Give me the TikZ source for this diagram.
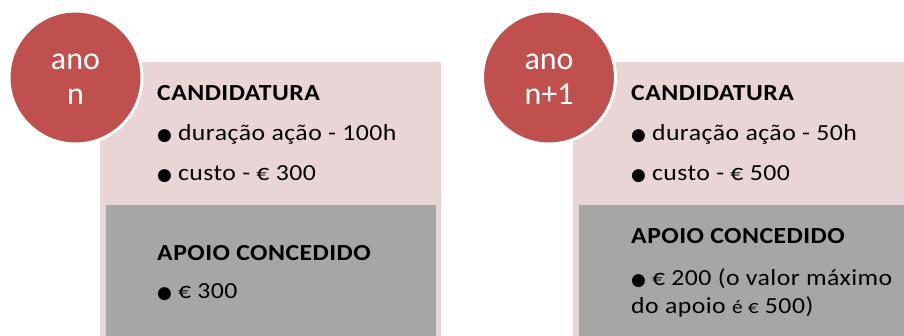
\documentclass[tikz,border=0pt]{standalone}
\usepackage{fontspec}
\setmainfont{Carlito}[FakeStretch=1.12, LetterSpace=2]
\newfontfamily\circfont{Carlito}
\newfontfamily\symfont{DejaVu Sans}
\definecolor{annored}{HTML}{C0504D}
\definecolor{candpink}{HTML}{EAD5D6}
\definecolor{apoiogray}{HTML}{A6A6A6}
\tikzset{
  pinkbox/.style={fill=candpink, draw=none, rounded corners=2pt},
  graybox/.style={fill=apoiogray, draw=none},
  yearcircle/.style={circle, fill=annored, draw=white, line width=3pt, minimum size=133pt, inner sep=0pt},
  yeartext/.style={text=white, align=center, font=\circfont\fontsize{32}{35}\selectfont, inner sep=0pt},
  bodytext/.style={anchor=base west, inner sep=0pt, font=\fontsize{23}{28}\selectfont, align=left},
  headtext/.style={anchor=base west, inner sep=0pt, font=\fontsize{23}{28}\selectfont\bfseries},
}
\newcommand{\blt}{{\symfont\fontsize{17}{17}\selectfont ●}\hspace{6pt}}
\begin{document}
\begin{tikzpicture}[x=1pt,y=-1pt]
\useasboundingbox (0,0) rectangle (904,335);
% left panel
\fill[pinkbox] (100,62) rectangle (441,345);
\fill[graybox] (106,205) rectangle (436,345);
\node[yearcircle] (c1) at (75.5,77.5) {};
\node[yeartext, anchor=base] (y1a) at (75.5,69) {ano};
\node[yeartext, anchor=base] (y1b) at (75.5,104) {n};
\node[headtext] (h1) at (157,100) {CANDIDATURA};
\node[bodytext] (d1) at (157,140) {\blt duração ação - 100h};
\node[bodytext] (k1) at (157,180) {\blt custo - € 300};
\node[headtext] (a1) at (157,260) {APOIO CONCEDIDO};
\node[bodytext] (v1) at (157,298) {\blt € 300};
% right panel
\fill[pinkbox] (573,62) rectangle (920,345);
\fill[graybox] (579,205) rectangle (920,345);
\node[yearcircle] (c2) at (549,77.5) {};
\node[yeartext, anchor=base] (y2a) at (549,69) {ano};
\node[yeartext, anchor=base] (y2b) at (549,104) {n+1};
\node[headtext] (h2) at (631,100) {CANDIDATURA};
\node[bodytext] (d2) at (631,140) {\blt duração ação - 50h};
\node[bodytext] (k2) at (631,180) {\blt custo - € 500};
\node[headtext] (a2) at (631,243) {APOIO CONCEDIDO};
\node[bodytext] (v2) at (631,285) {\blt € 200 (o valor máximo};
\node[bodytext] (v2b) at (631,313) {do apoio {\fontsize{19}{20}\selectfont é €} 500)};
\end{tikzpicture}
\end{document}
